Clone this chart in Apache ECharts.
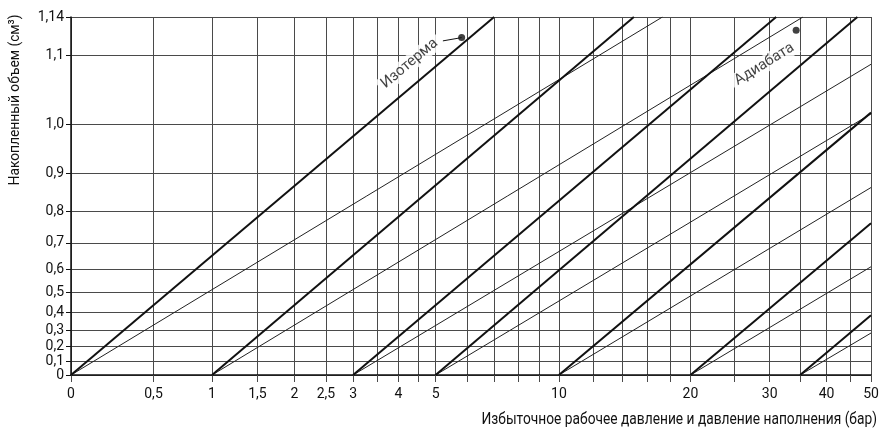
<!DOCTYPE html>
<html><head><meta charset="utf-8">
<script src="https://cdn.jsdelivr.net/npm/echarts@6/dist/echarts.min.js"></script>
<style>html,body{margin:0;padding:0;background:#fff}#c{width:884px;height:430px}</style>
</head><body><div id="c"></div>
<script>
// ---- data (pressure in bar, volume in cm3) ----
const V_MAX = 1.3; // asymptote used by the volume scale of the chart
const xTickValues = [0, 0.5, 1, 1.5, 2, 2.5, 3, 4, 5, 10, 20, 30, 40, 50];
const xTickLabels = ['0', '0,5', '1', '1,5', '2', '2,5', '3', '4', '5', '10', '20', '30', '40', '50'];
const xGridValues = [0, 0.5, 1, 1.5, 2, 2.5, 3, 3.5, 4, 4.5, 5, 6, 7, 8, 9, 10, 12, 14, 16, 18, 20, 25, 30, 35, 40, 45, 50];
const yTickValues = [0, 0.1, 0.2, 0.3, 0.4, 0.5, 0.6, 0.7, 0.8, 0.9, 1.0, 1.1, 1.14];
const yTickLabels = ['0', '0,1', '0,2', '0,3', '0,4', '0,5', '0,6', '0,7', '0,8', '0,9', '1,0', '1,1', '1,14'];
const fillPressures = [0, 1, 3, 5, 10, 20, 35];
const isothermEnds = [[7.0, 1.14], [14.9, 1.14], [31.0, 1.14], [46.7, 1.14], [50, 1.02], [50, 0.765], [50, 0.384]];
const adiabatEnds = [[17.3, 1.14], [35.5, 1.14], [50, 1.089], [50, 1.018], [50, 0.866], [50, 0.61], [50, 0.283]];
const isothermLabelAt = [4.28, 1.09];
const isothermLeader = [[5.22, 1.116], [5.82, 1.1195]];
const adiabatLabelAt = [29.2, 1.089];
const adiabatDot = [34.3, 1.127];

// ---- axis transforms ----
function tx(p) { return Math.log10(p + 1); }
function ty(v) { return Math.log(V_MAX / (V_MAX - v)); }
function pt(a) { return [tx(a[0]), ty(a[1])]; }

const FONT = "Roboto,'Liberation Sans',sans-serif";
const GRID_COLOR = '#4a4a4a';
const TEXT = '#111';
const xMin = tx(0), xMax = tx(50), yMin = ty(0), yMax = ty(1.14);

// tick labels split over two stacked axes so neighbouring labels are never auto-hidden
const yEven = yTickValues.filter((v, i) => i % 2 === 0 || i === yTickValues.length - 1);
const yOdd = yTickValues.filter((v, i) => i % 2 === 1 && i !== yTickValues.length - 1);

function yFormatter(val) {
  const i = yTickValues.findIndex(v => Math.abs(ty(v) - val) < 1e-9);
  return i >= 0 ? yTickLabels[i] : '';
}

const series = [];
fillPressures.forEach((p0, i) => {
  series.push({
    type: 'line', data: [pt([p0, 0]), pt(isothermEnds[i])], symbol: 'none', silent: true,
    lineStyle: { color: '#111', width: 2 }, z: 4
  });
  series.push({
    type: 'line', data: [pt([p0, 0]), pt(adiabatEnds[i])], symbol: 'none', silent: true,
    lineStyle: { color: '#222', width: 1 }, z: 3
  });
});
series.push({
  type: 'line', data: isothermLeader.map(pt), symbol: 'none', silent: true,
  lineStyle: { color: '#111', width: 1 }, z: 5
});
series.push({
  type: 'scatter', data: [pt(isothermLeader[1]), pt(adiabatDot)], symbolSize: 7, silent: true,
  itemStyle: { color: '#111' }, z: 6
});
series.push({
  type: 'scatter', symbolSize: 0, silent: true, z: 7,
  data: [
    { value: pt(isothermLabelAt), name: 'Изотерма', label: { rotate: 40 } },
    { value: pt(adiabatLabelAt), name: 'Адиабата', label: { rotate: 32 } }
  ],
  label: {
    show: true, position: 'inside', formatter: '{b}', color: TEXT, fontSize: 15, fontFamily: FONT,
    backgroundColor: '#fff', padding: [1, 4]
  }
});

const chart = echarts.init(document.getElementById('c'), null, { renderer: 'canvas' });
chart.setOption({
  animation: false,
  backgroundColor: '#fff',
  grid: { left: 71, right: 13, top: 17, bottom: 55, containLabel: false },
  xAxis: {
    type: 'value', min: xMin, max: xMax,
    axisLine: { show: true, lineStyle: { color: '#111', width: 1.5 } },
    axisTick: { show: true, customValues: xGridValues.map(tx), length: 7, lineStyle: { color: GRID_COLOR } },
    axisLabel: {
      customValues: xTickValues.map(tx), margin: 12, color: TEXT, fontSize: 14, fontFamily: FONT,
      showMinLabel: true, showMaxLabel: true, hideOverlap: false,
      formatter: function (val) {
        const i = xTickValues.findIndex(p => Math.abs(tx(p) - val) < 1e-9);
        return i >= 0 ? xTickLabels[i] : '';
      }
    },
    splitLine: { show: true, lineStyle: { color: GRID_COLOR, width: 1 } }
  },
  yAxis: [
    {
      type: 'value', min: yMin, max: yMax, position: 'left',
      axisLine: { show: true, lineStyle: { color: '#111', width: 1.5 } },
      axisTick: { show: true, customValues: yTickValues.map(ty), length: 5, lineStyle: { color: '#111' } },
      axisLabel: {
        customValues: yEven.map(ty), margin: 7, color: TEXT, fontSize: 14, fontFamily: FONT,
        showMinLabel: true, showMaxLabel: true, hideOverlap: false, formatter: yFormatter
      },
      splitLine: { show: true, lineStyle: { color: GRID_COLOR, width: 1 } }
    },
    {
      type: 'value', min: yMin, max: yMax, position: 'left', offset: 0,
      axisLine: { show: false },
      axisTick: { show: false },
      axisLabel: {
        customValues: yOdd.map(ty), margin: 7, color: TEXT, fontSize: 14, fontFamily: FONT,
        showMinLabel: true, showMaxLabel: true, hideOverlap: false, formatter: yFormatter
      },
      splitLine: { show: false }
    }
  ],
  graphic: [
    {
      type: 'text', x: 15, y: 100, rotation: Math.PI / 2, scaleX: 0.92,
      style: { text: 'Накопленный объем (см³)', fill: TEXT, fontSize: 15, fontFamily: FONT, align: 'center', verticalAlign: 'middle' }
    },
    {
      type: 'text', x: 877, y: 420, scaleX: 0.81,
      style: { text: 'Избыточное рабочее давление и давление наполнения (бар)', fill: TEXT, fontSize: 17, fontFamily: FONT, align: 'right', verticalAlign: 'middle' }
    }
  ],
  series: series
});
</script>
</body></html>
